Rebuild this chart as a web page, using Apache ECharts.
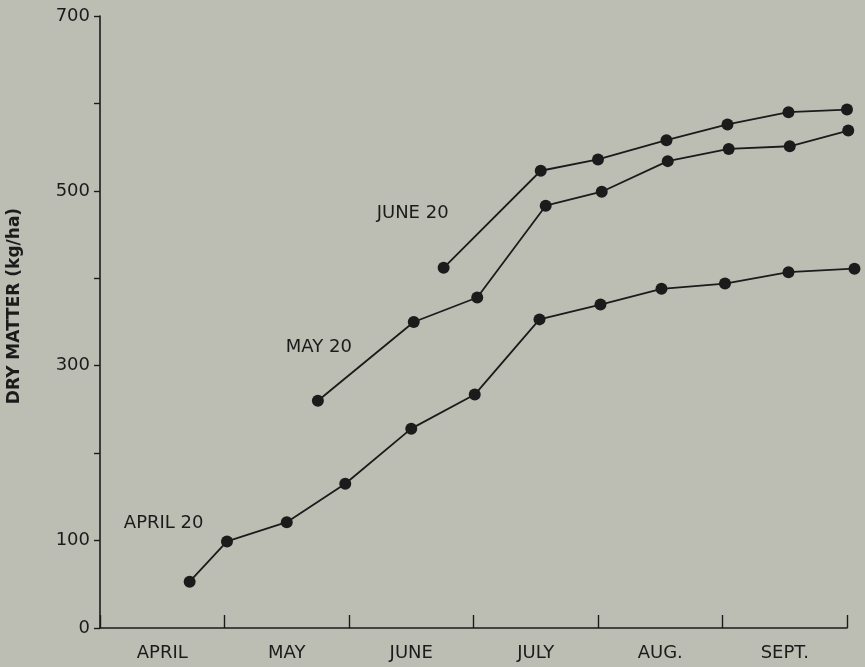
<!DOCTYPE html>
<html>
<head>
<meta charset="utf-8">
<script src="https://cdn.jsdelivr.net/npm/echarts@6/dist/echarts.min.js"></script>
<style>
  html, body { margin: 0; padding: 0; background: #bdbeb3; }
  #chart { width: 865px; height: 667px; }
</style>
</head>
<body>
<div id="chart"></div>
<script>
// Season months shown along the bottom (each month one unit wide)
const months = ['APRIL', 'MAY', 'JUNE', 'JULY', 'AUG.', 'SEPT.'];
// Values on the y axis that carry a printed label
const yTickLabels = [0, 100, 300, 500, 700];

// Sampling dates, in months from April 1, and dry matter (kg/ha) per seeding date
const april20Time = [0.72, 1.02, 1.50, 1.97, 2.50, 3.01, 3.53, 4.02, 4.51, 5.02, 5.53, 6.06];
const april20DM   = [53, 99, 121, 165, 228, 267, 353, 370, 388, 394, 407, 411];

const may20Time = [1.75, 2.52, 3.03, 3.58, 4.03, 4.56, 5.05, 5.54, 6.01];
const may20DM   = [260, 350, 378, 483, 499, 534, 548, 551, 569];

const june20Time = [2.76, 3.54, 4.00, 4.55, 5.04, 5.53, 6.00];
const june20DM   = [412, 523, 536, 558, 576, 590, 593];

const ink = '#1b1b1b';
const font = 'DejaVu Sans';

function pairs(xs, ys) {
  return xs.map((x, i) => [x, ys[i]]);
}

function makeSeries(name, xs, ys, offset) {
  const data = pairs(xs, ys);
  data[0] = {
    value: data[0],
    label: {
      show: true,
      position: 'inside',
      offset: offset,
      formatter: name,
      color: ink,
      fontFamily: font,
      fontSize: 18
    }
  };
  return {
    name: name,
    type: 'line',
    xAxisIndex: 0,
    clip: false,
    symbol: 'circle',
    symbolSize: 12,
    itemStyle: { color: ink },
    lineStyle: { color: ink, width: 1.8 },
    label: { show: false },
    emphasis: { disabled: true },
    data: data
  };
}

const chart = echarts.init(document.getElementById('chart'), null, { renderer: 'canvas' });

chart.setOption({
  backgroundColor: '#bdbeb3',
  animation: false,
  grid: { left: 100, right: 18, top: 16, bottom: 39 },
  xAxis: [
    {
      type: 'value',
      min: 0,
      max: 6,
      interval: 1,
      axisLine: { show: true, lineStyle: { color: ink, width: 1.6 } },
      axisTick: { show: true, inside: true, length: 13, lineStyle: { color: ink, width: 1.4 } },
      axisLabel: { show: false },
      splitLine: { show: false }
    },
    {
      type: 'category',
      data: months,
      position: 'bottom',
      boundaryGap: true,
      axisLine: { show: false },
      axisTick: { show: false },
      axisLabel: { color: ink, fontFamily: font, fontSize: 18, margin: 16 },
      splitLine: { show: false }
    }
  ],
  yAxis: {
    type: 'value',
    min: 0,
    max: 700,
    interval: 100,
    axisLine: { show: true, lineStyle: { color: ink, width: 1.6 } },
    axisTick: { show: true, inside: false, length: 6, lineStyle: { color: ink, width: 1.4 } },
    axisLabel: {
      color: ink,
      fontFamily: font,
      fontSize: 18,
      margin: 10,
      formatter: v => (yTickLabels.includes(v) ? String(v) : '')
    },
    splitLine: { show: false }
  },
  graphic: [
    {
      type: 'text',
      x: 15,
      y: 306,
      rotation: Math.PI / 2,
      style: {
        text: 'DRY MATTER (kg/ha)',
        fill: ink,
        font: 'bold 17px "DejaVu Sans"',
        align: 'center',
        verticalAlign: 'middle'
      }
    }
  ],
  series: [
    makeSeries('APRIL 20', april20Time, april20DM, [-26, -58]),
    makeSeries('MAY 20', may20Time, may20DM, [1, -53]),
    makeSeries('JUNE 20', june20Time, june20DM, [-31, -54])
  ]
});
</script>
</body>
</html>
